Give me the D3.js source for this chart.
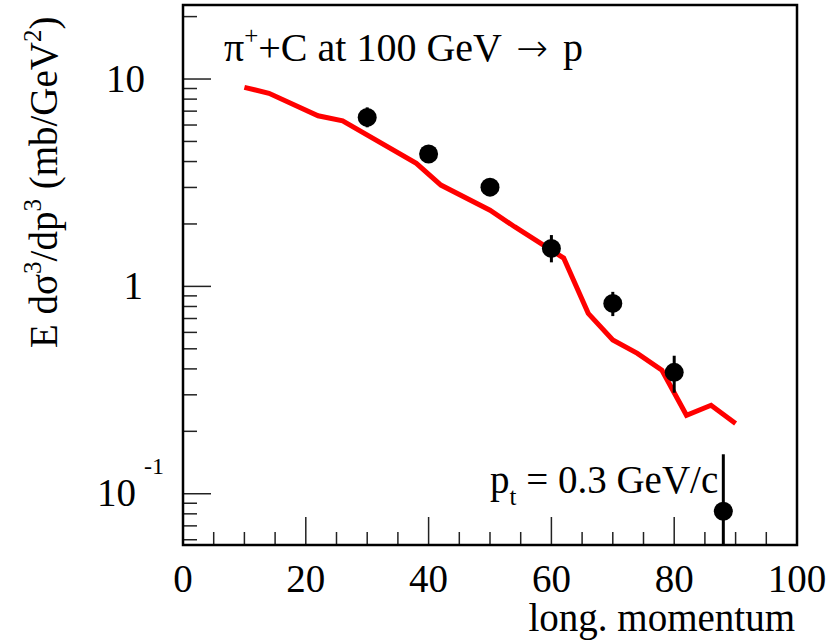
<!DOCTYPE html>
<html>
<head>
<meta charset="utf-8">
<script src="https://cdn.jsdelivr.net/npm/d3@7/dist/d3.min.js"></script>
<style>
  html, body { margin: 0; padding: 0; background: #fff; }
  svg { display: block; }
</style>
</head>
<body>
<svg id="chart" width="829" height="643"></svg>
<script>
// Measured proton spectrum (points with vertical errors)
const dataP   = [30, 40, 50, 60, 70, 80, 88];
const dataV   = [6.53, 4.35, 3.01, 1.525, 0.828, 0.385, 0.0824];
const dataLo  = [5.85, 4.10, 2.85, 1.306, 0.719, 0.307, 0.02];
const dataHi  = [7.30, 4.60, 3.17, 1.768, 0.941, 0.463, 0.155];

// Model curve
const modelP  = [10, 14, 22, 26, 38, 42, 50, 54, 62, 66, 70, 74, 78, 82, 86, 90];
const modelV  = [9.12, 8.53, 6.65, 6.29, 3.92, 3.08, 2.33, 1.94, 1.37, 0.741, 0.551, 0.475, 0.394, 0.239, 0.267, 0.218];

// Axis ticks
const xMajor  = [0, 20, 40, 60, 80, 100];
const xMinor  = [5, 10, 15, 25, 30, 35, 45, 50, 55, 65, 70, 75, 85, 90, 95];
const yDomain = [0.0566, 22.75];
const xDomain = [0, 100];

const FONT = "'Liberation Serif', 'Times New Roman', Times, 'DejaVu Serif', serif";

const svg = d3.select("#chart")
  .attr("font-family", FONT);
const L = 183, R = 797, T = 5, B = 545;

const x = d3.scaleLinear().domain(xDomain).range([L, R]);
const y = d3.scaleLog().domain(yDomain).range([B, T]);

// Clip for the plotting region
svg.append("defs").append("clipPath").attr("id", "plotclip")
  .append("rect").attr("x", L).attr("y", T).attr("width", R - L).attr("height", B - T);

// Ticks drawn inside the frame
const tickG = svg.append("g").attr("stroke", "#222").attr("stroke-width", 1.5);
xMajor.forEach(v => tickG.append("line")
  .attr("x1", x(v)).attr("x2", x(v)).attr("y1", B).attr("y2", B - 28));
xMinor.forEach(v => tickG.append("line")
  .attr("x1", x(v)).attr("x2", x(v)).attr("y1", B).attr("y2", B - 13));

const yTicks = [];
for (let e = -2; e <= 1; e++) {
  for (let m = 1; m <= 9; m++) {
    const v = m * Math.pow(10, e);
    if (v >= yDomain[0] && v <= yDomain[1]) yTicks.push({ v, major: m === 1 });
  }
}
yTicks.forEach(t => tickG.append("line")
  .attr("x1", L).attr("x2", L + (t.major ? 28 : 14))
  .attr("y1", y(t.v)).attr("y2", y(t.v)));

// Frame
svg.append("rect")
  .attr("x", L).attr("y", T).attr("width", R - L).attr("height", B - T)
  .attr("fill", "none").attr("stroke", "#000").attr("stroke-width", 2.5);

// X tick labels
svg.append("g").selectAll("text").data(xMajor).join("text")
  .attr("x", d => x(d)).attr("y", 592)
  .attr("text-anchor", "middle").attr("font-size", 39)
  .text(d => d);

// Y tick labels
svg.append("text").attr("x", 145).attr("y", y(10) + 13)
  .attr("text-anchor", "end").attr("font-size", 39).text("10");
svg.append("text").attr("x", 143).attr("y", y(1) + 13)
  .attr("text-anchor", "end").attr("font-size", 39).text("1");
const dec = svg.append("text").attr("x", 97).attr("y", y(0.1) + 12).attr("font-size", 39);
dec.append("tspan").text("10");
dec.append("tspan").attr("x", 144).attr("y", y(0.1) - 20).attr("font-size", 24).text("-1");

// Axis titles
svg.append("text").attr("x", 795).attr("y", 631)
  .attr("text-anchor", "end").attr("font-size", 39).text("long. momentum");

const yl = svg.append("text")
  .attr("transform", "translate(57,348) rotate(-90)")
  .attr("font-size", 39);
yl.append("tspan").text("E d\u03C3");
yl.append("tspan").attr("dy", -16).attr("font-size", 25).text("3");
yl.append("tspan").attr("dy", 16).text("/dp");
yl.append("tspan").attr("dy", -16).attr("font-size", 25).text("3");
yl.append("tspan").attr("dy", 16).text(" (mb/GeV");
yl.append("tspan").attr("dy", -16).attr("font-size", 25).text("2");
yl.append("tspan").attr("dy", 16).text(")");

// Plot contents
const plot = svg.append("g").attr("clip-path", "url(#plotclip)");

plot.append("path")
  .datum(modelP.map((p, i) => [p, modelV[i]]))
  .attr("fill", "none").attr("stroke", "#ff0000").attr("stroke-width", 5)
  .attr("stroke-linejoin", "miter")
  .attr("d", d3.line().x(d => x(d[0])).y(d => y(d[1])));

const pts = dataP.map((p, i) => ({ p, v: dataV[i], lo: dataLo[i], hi: dataHi[i] }));
plot.selectAll("line.err").data(pts).join("line")
  .attr("class", "err")
  .attr("x1", d => x(d.p)).attr("x2", d => x(d.p))
  .attr("y1", d => y(d.lo)).attr("y2", d => y(d.hi))
  .attr("stroke", "#000").attr("stroke-width", 3);
plot.selectAll("circle").data(pts).join("circle")
  .attr("cx", d => x(d.p)).attr("cy", d => y(d.v)).attr("r", 9.5)
  .attr("fill", "#000");

// Annotations
const ttl = svg.append("text").attr("x", 224).attr("y", 61).attr("font-size", 40);
ttl.append("tspan").text("\u03C0");
ttl.append("tspan").attr("dy", -17).attr("font-size", 25).text("+");
ttl.append("tspan").attr("dy", 17).text("+C at 100 GeV ");
ttl.append("tspan").attr("dx", 5).attr("font-family", "'DejaVu Sans', sans-serif").attr("font-size", 38)
  .attr("font-weight", 300).text("\u2192");
ttl.append("tspan").attr("dx", 5).text(" p");

const pt = svg.append("text").attr("x", 490).attr("y", 493).attr("font-size", 39);
pt.append("tspan").text("p");
pt.append("tspan").attr("dy", 12).attr("font-size", 25).text("t");
pt.append("tspan").attr("dy", -12).text(" = 0.3 GeV/c");
</script>
</body>
</html>
